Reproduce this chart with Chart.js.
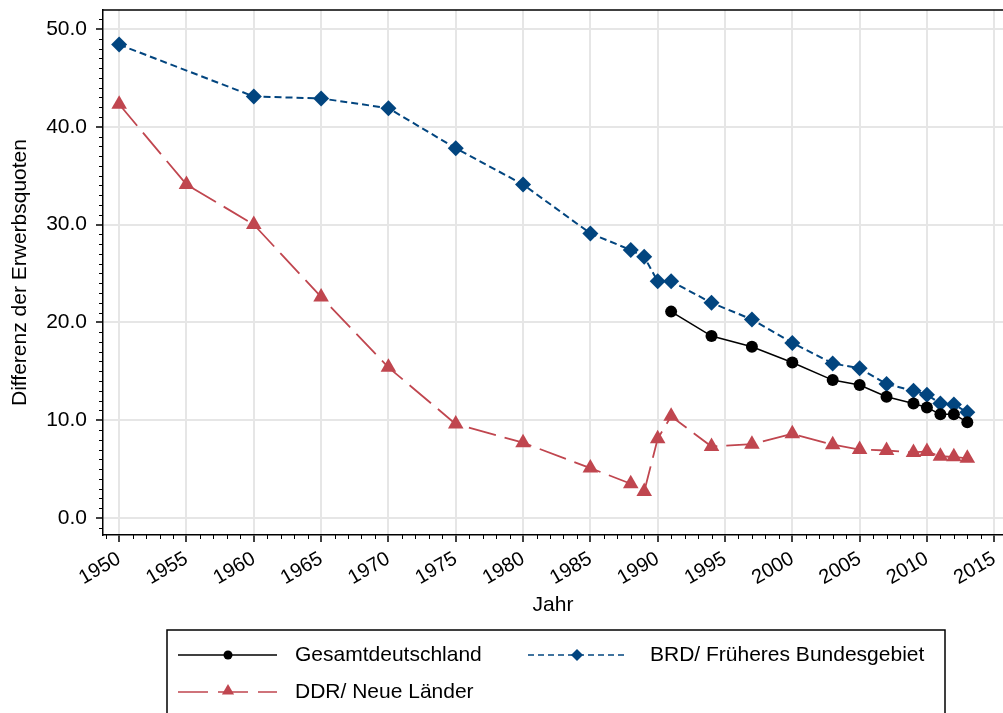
<!DOCTYPE html>
<html>
<head>
<meta charset="utf-8">
<script src="https://cdn.jsdelivr.net/npm/chart.js@4"></script>
<style>
body { margin: 0; background: #fff; }
#wrap { width: 1003px; height: 713px; }
</style>
</head>
<body>
<div id="wrap"><canvas id="chart"></canvas></div>
<script>
// data
var gesamtYears = [1991, 1994, 1997, 2000, 2003, 2005, 2007, 2009, 2010, 2011, 2012, 2013];
var gesamtValues = [21.1, 18.6, 17.5, 15.9, 14.1, 13.6, 12.4, 11.7, 11.3, 10.6, 10.6, 9.8];

var brdYears = [1950, 1960, 1965, 1970, 1975, 1980, 1985, 1988, 1989, 1990, 1991, 1994, 1997, 2000, 2003, 2005, 2007, 2009, 2010, 2011, 2012, 2013];
var brdValues = [48.4, 43.1, 42.9, 41.9, 37.8, 34.1, 29.1, 27.4, 26.7, 24.2, 24.2, 22.0, 20.3, 17.9, 15.8, 15.3, 13.7, 13.0, 12.6, 11.7, 11.6, 10.8];

var ddrYears = [1950, 1955, 1960, 1965, 1970, 1975, 1980, 1985, 1988, 1989, 1990, 1991, 1994, 1997, 2000, 2003, 2005, 2007, 2009, 2010, 2011, 2012, 2013];
var ddrValues = [42.3, 34.1, 30.0, 22.6, 15.4, 9.6, 7.7, 5.1, 3.5, 2.7, 8.1, 10.4, 7.3, 7.55, 8.6, 7.5, 7.0, 6.9, 6.7, 6.8, 6.3, 6.25, 6.1];

var xTickYears = [1950, 1955, 1960, 1965, 1970, 1975, 1980, 1985, 1990, 1995, 2000, 2005, 2010, 2015];
var yTickValues = [0, 10, 20, 30, 40, 50];

var legendLabels = ['Gesamtdeutschland', 'BRD/ Früheres Bundesgebiet', 'DDR/ Neue Länder'];

const FONT = '"Liberation Sans", Arial, sans-serif';
const BLACK = '#000000';
const NAVY = '#02457f';
const RED = '#c0464f';

function toPoints(xs, ys){
    let pts = [];
    for(let i=0; i<xs.length; i++){
        pts.push({x: xs[i], y: ys[i]});
    }
    return pts;
}

// small marker helper for the legend
function marker(ctx, style, x, y, r, color){
    ctx.save();
    ctx.fillStyle = color;
    ctx.beginPath();
    if(style === 'circle'){
        ctx.arc(x, y, r, 0, Math.PI*2);
    } else if(style === 'rectRot'){
        ctx.moveTo(x, y-r); ctx.lineTo(x+r, y); ctx.lineTo(x, y+r); ctx.lineTo(x-r, y);
    } else {
        ctx.moveTo(x, y-r); ctx.lineTo(x+r*0.87, y+r*0.5); ctx.lineTo(x-r*0.87, y+r*0.5);
    }
    ctx.closePath();
    ctx.fill();
    ctx.restore();
}

// frame, minor ticks and the boxed legend
const extrasPlugin = {
    id: 'extras',
    afterDraw(chart){
        const ctx = chart.ctx;
        const xs = chart.scales.x;
        const ys = chart.scales.y;
        const a = chart.chartArea;
        ctx.save();
        ctx.strokeStyle = BLACK;
        ctx.lineWidth = 1.5;
        ctx.beginPath();
        ctx.moveTo(a.left, a.top);
        ctx.lineTo(a.right, a.top);
        ctx.stroke();

        // minor ticks
        ctx.lineWidth = 1;
        ctx.beginPath();
        for(let yr = Math.ceil(xs.min); yr <= xs.max; yr++){
            if(yr % 5 === 0) continue;
            let px = Math.round(xs.getPixelForValue(yr)) + 0.5;
            ctx.moveTo(px, a.bottom);
            ctx.lineTo(px, a.bottom + 4);
        }
        for(let v = Math.ceil(ys.min); v <= ys.max; v++){
            if(v % 10 === 0) continue;
            let py = Math.round(ys.getPixelForValue(v)) + 0.5;
            ctx.moveTo(a.left, py);
            ctx.lineTo(a.left - 4, py);
        }
        ctx.stroke();

        // legend box
        ctx.lineWidth = 1.5;
        ctx.strokeRect(167, 630, 778, 100);

        ctx.font = '21px ' + FONT;
        ctx.fillStyle = BLACK;
        ctx.textBaseline = 'middle';
        ctx.textAlign = 'left';

        let row1 = 655, row2 = 692;

        // Gesamtdeutschland
        ctx.strokeStyle = BLACK;
        ctx.lineWidth = 1.5;
        ctx.setLineDash([]);
        ctx.beginPath(); ctx.moveTo(178, row1); ctx.lineTo(277, row1); ctx.stroke();
        marker(ctx, 'circle', 228, row1, 4.5, BLACK);
        ctx.fillText(legendLabels[0], 295, row1);

        // BRD
        ctx.strokeStyle = NAVY;
        ctx.setLineDash([6, 4]);
        ctx.beginPath(); ctx.moveTo(528, row1); ctx.lineTo(627, row1); ctx.stroke();
        marker(ctx, 'rectRot', 577, row1, 6, NAVY);
        ctx.fillStyle = BLACK;
        ctx.fillText(legendLabels[1], 650, row1);

        // DDR
        ctx.strokeStyle = RED;
        ctx.setLineDash([30, 10]);
        ctx.beginPath(); ctx.moveTo(178, row2); ctx.lineTo(277, row2); ctx.stroke();
        marker(ctx, 'triangle', 228, row2 - 1, 7, RED);
        ctx.fillStyle = BLACK;
        ctx.fillText(legendLabels[2], 295, row2);

        ctx.restore();
    }
};

const chartData = {
    datasets: [
        {
            label: legendLabels[0],
            data: toPoints(gesamtYears, gesamtValues),
            borderColor: BLACK,
            backgroundColor: BLACK,
            borderWidth: 1.5,
            pointStyle: 'circle',
            pointRadius: 6,
            pointBorderWidth: 0,
        },
        {
            label: legendLabels[1],
            data: toPoints(brdYears, brdValues),
            borderColor: NAVY,
            backgroundColor: NAVY,
            borderWidth: 2,
            borderDash: [7, 4],
            pointStyle: 'rectRot',
            pointRadius: 8,
            pointBorderWidth: 0,
        },
        {
            label: legendLabels[2],
            data: toPoints(ddrYears, ddrValues),
            borderColor: RED,
            backgroundColor: RED,
            borderWidth: 1.8,
            borderDash: [28, 9],
            pointStyle: 'triangle',
            pointRadius: 9,
            pointBorderWidth: 0,
        }
    ]
};

const lineChart = new Chart(document.getElementById('chart'), {
    type: 'line',
    data: chartData,
    plugins: [extrasPlugin],
    options: {
        responsive: true,
        maintainAspectRatio: false,
        animation: false,
        layout: { autoPadding: false, padding: { top: 10, left: 0, right: 0, bottom: 95 } },
        plugins: {
            legend: { display: false },
            tooltip: { enabled: false }
        },
        scales: {
            x: {
                type: 'linear',
                min: 1948.8,
                max: 2015.65,
                afterBuildTicks: (s) => { s.ticks = xTickYears.map(v => ({value: v})); },
                afterFit: (s) => { s.height = 83; s.paddingLeft = 0; s.paddingRight = 0; },
                grid: { color: '#e6e6e6', lineWidth: 2, tickColor: BLACK, tickWidth: 1.5, tickLength: 7 },
                border: { display: true, color: BLACK, width: 1.5 },
                ticks: {
                    autoSkip: false,
                    minRotation: 30,
                    maxRotation: 30,
                    padding: 5,
                    color: BLACK,
                    font: { family: FONT, size: 20 },
                    callback: (v) => String(v)
                },
                title: { display: true, text: 'Jahr', color: BLACK, font: { family: FONT, size: 21 }, padding: { top: 0, bottom: 0 } }
            },
            y: {
                min: -1.74,
                max: 51.94,
                afterBuildTicks: (s) => { s.ticks = yTickValues.map(v => ({value: v})); },
                afterFit: (s) => { s.width = 103; s.paddingTop = 0; s.paddingBottom = 0; },
                grid: { color: '#e6e6e6', lineWidth: 2, tickColor: BLACK, tickWidth: 1.5, tickLength: 7 },
                border: { display: true, color: BLACK, width: 1.5 },
                ticks: {
                    padding: 9,
                    color: BLACK,
                    font: { family: FONT, size: 21 },
                    callback: (v) => Number(v).toFixed(1)
                },
                title: { display: true, text: 'Differenz der Erwerbsquoten', color: BLACK, font: { family: FONT, size: 21 }, padding: { top: 8, bottom: 0 } }
            }
        }
    }
});
</script>
</body>
</html>
